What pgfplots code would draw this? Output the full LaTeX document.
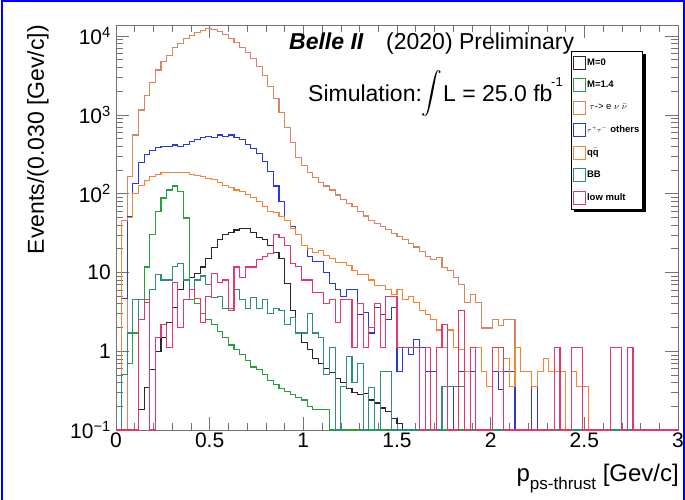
\documentclass[border=0pt]{standalone}
\usepackage{exscale}
\usepackage{fontspec}
\setmainfont{Liberation Sans}
\usepackage{graphicx}
\usepackage{pgfplots}
\pgfplotsset{compat=1.18}
\usepackage{pgfplotstable}

\definecolor{cMz}{RGB}{40,40,40}
\definecolor{cMf}{RGB}{40,160,60}
\definecolor{ctau}{RGB}{215,135,95}
\definecolor{coth}{RGB}{40,60,210}
\definecolor{cqq}{RGB}{240,135,55}
\definecolor{cBB}{RGB}{45,140,130}
\definecolor{clow}{RGB}{225,55,105}

% bin left edges (width 0.03); zero bins are written as 0.1 (the axis floor)
\pgfplotstableread{
x     Mz    Mf    tau    oth   qq    BB    low
0.00  0.1   0.1   0.1    0.1   0.1   0.1   0.1
0.03  0.1   0.1   0.1    4.7   45    0.5   0.1
0.06  0.1   0.7   163    51    50    1.7   0.1
0.09  0.1   1.7   555    136   100   4.5   0.1
0.12  0.18  4.5   1150   245   128   2.5   2.5
0.15  0.35  11.7  1780   310   148   4.2   4.5
0.18  0.58  30    2600   350   164   6     0.1
0.21  1.0   59    3700   380   177   9.5   1.5
0.24  1.5   88    4700   400   185   8     2.2
0.27  2.3   111   5700   400   187   8     1.1
0.30  3.6   125   7100   414   187   12    7.5
0.33  6.0   105   8100   400   187   13    2.0
0.36  8.0   49    9400   424   183   8     4.5
0.39  8.7   4.5   10200  458   175   6     6.0
0.42  9.8   4.0   11200  480   172   8     4.7
0.45  11.7  3.0   11900  518   165   9     2.3
0.48  15    2.5   12600  537   156   7     5.0
0.51  20.5  2.2   12200  518   150   4.8   9.8
0.54  26    1.8   11500  555   140   5     7.5
0.57  30    1.5   10500  537   128   3.5   8
0.60  32    1.2   9400   555   120   3.5   3.3
0.63  34.5  1.05  8300   518   111   6     11.7
0.66  36.5  0.9   7200   480   105   4.5   8.7
0.69  36.5  0.77  6200   424   98    3.5   11.7
0.72  32    0.63  5200   376   90    4.8   11.7
0.75  28    0.58  4100   324   79    3.5   14.5
0.78  26    0.5   3150   254   68    4.5   15.8
0.81  22    0.43  2300   190   59    3     17.6
0.84  18    0.38  1630   125   57    3.5   30
0.87  15    0.34  1080   80    51    3.3   28
0.90  7.3   0.31  690    45    46    2.2   22
0.93  3.3   0.28  440    38    36    2.7   13
0.96  1.7   0.26  290    30    30    1.7   12
0.99  1.3   0.24  230    22    22    1.7   8
1.02  1.05  0.2   187    15.8  20    3.0   8
1.05  0.8   0.18  162    13.6  18    1.7   5.5
1.08  0.7   0.18  140    13.6  19    1.5   5.5
1.11  0.6   0.18  125    10    16.6  0.5   4
1.14  0.53  0.1   111    7.3   15    1.1   4.5
1.17  0.45  0.1   96     6.0   13.5  0.1   2.3
1.20  0.40  0.1   84     4.9   13.5  0.36  4.5
1.23  0.34  0.1   75     6.0   12.3  0.85  4.5
1.26  0.30  0.1   68     6.0   10.7  0.4   1.1
1.29  0.28  0.1   60     2.9   9.3   0.7   4.0
1.32  0.29  0.1   52     3.1   9.3   0.1   1.1
1.35  0.24  0.1   46     1.7   8.0   0.35  2.0
1.38  0.22  0.1   42     3.6   6.9   0.1   4.0
1.41  0.19  0.1   38.5   2.9   6.9   0.55  1.1
1.44  0.17  0.1   35     2.5   6.0   0.55  4.9
1.47  0.14  0.1   31.5   3.6   5.2   0.1   4.9
1.50  0.12  0.1   28.5   0.55  6.0   0.1   1.1
1.53  0.1   0.1   26     1.1   4.5   0.1   1.1
1.56  0.1   0.1   23.5   0.9   4.9   0.1   1.1
1.59  0.1   0.1   21     1.4   4.1   0.1   1.1
1.62  0.1   0.1   18.5   1.1   3.3   0.1   0.1
1.65  0.1   0.1   16     0.55  2.9   0.1   1.1
1.68  0.1   0.1   14.5   0.55  2.5   0.1   0.1
1.71  0.1   0.1   15.5   0.1   1.86  0.1   1.1
1.74  0.1   0.1   11.5   0.36  1.1   0.36  2.2
1.77  0.1   0.1   10.5   0.36  1.86  0.36  0.1
1.80  0.1   0.1   8.7    0.1   1.1   0.36  0.1
1.83  0.1   0.1   7.0    0.55  1.04  0.36  3.3
1.86  0.1   0.1   4.1    0.55  0.55  0.1   0.1
1.89  0.1   0.1   5.2    0.55  1.1   0.1   1.1
1.92  0.1   0.1   4.1    0.1   1.1   0.1   0.1
1.95  0.1   0.1   1.97   0.1   0.55  0.1   0.1
1.98  0.1   0.1   1.97   0.1   0.36  0.1   0.1
2.01  0.1   0.1   2.5    0.55  1.1   0.1   1.1
2.04  0.1   0.1   2.1    0.33  0.55  0.1   1.1
2.07  0.1   0.1   2.5    0.55  0.8   0.1   0.1
2.10  0.1   0.1   2.5    0.55  0.36  0.1   0.1
2.13  0.1   0.1   0.1    0.1   1.1   0.1   0.1
2.16  0.1   0.1   0.1    0.1   0.55  0.1   0.1
2.19  0.1   0.1   0.1    0.1   0.55  0.1   0.1
2.22  0.1   0.1   0.1    0.36  0.36  0.1   0.1
2.25  0.1   0.1   0.1    0.1   0.55  0.1   0.1
2.28  0.1   0.1   0.1    0.1   0.8   0.1   0.1
2.31  0.1   0.1   0.1    0.1   0.55  0.1   0.1
2.34  0.1   0.1   0.1    0.1   0.55  0.1   1.1
2.37  0.1   0.1   0.1    0.1   0.55  0.1   0.1
2.40  0.1   0.1   0.1    0.1   0.1   0.1   0.1
2.43  0.1   0.1   0.1    0.1   0.55  0.1   1.1
2.46  0.1   0.1   0.1    0.1   0.36  0.1   1.1
2.49  0.1   0.1   0.1    0.1   0.36  0.1   0.1
2.52  0.1   0.1   0.1    0.1   0.1   0.1   0.1
2.55  0.1   0.1   0.1    0.1   0.1   0.1   0.1
2.58  0.1   0.1   0.1    0.1   0.1   0.1   0.1
2.61  0.1   0.1   0.1    0.1   0.1   0.1   0.1
2.64  0.1   0.1   0.1    0.1   0.1   0.1   1.1
2.67  0.1   0.1   0.1    0.1   0.1   0.1   1.1
2.70  0.1   0.1   0.1    0.1   0.1   0.1   0.1
2.73  0.1   0.1   0.1    0.1   0.1   0.1   1.1
2.76  0.1   0.1   0.1    0.1   0.1   0.1   0.1
2.79  0.1   0.1   0.1    0.1   0.1   0.1   0.1
2.82  0.1   0.1   0.1    0.1   0.1   0.1   0.1
2.85  0.1   0.1   0.1    0.1   0.1   0.1   0.1
2.88  0.1   0.1   0.1    0.1   0.1   0.1   0.1
2.91  0.1   0.1   0.1    0.1   0.1   0.1   0.1
2.94  0.1   0.1   0.1    0.1   0.1   0.1   0.1
2.97  0.1   0.1   0.1    0.1   0.1   0.1   0.1
3.00  0.1   0.1   0.1    0.1   0.1   0.1   0.1
}\histdata

\begin{document}
\begin{tikzpicture}
\path[use as bounding box] (0,0) rectangle (685pt,500pt);
\begin{axis}[
  at={(116pt,70pt)}, anchor=south west,
  scale only axis, width=562pt, height=405pt,
  xmin=0, xmax=3, ymode=log, ymin=0.1, ymax=13800,
  clip=false,
  axis line style={black!55, line width=0.8pt},
  tick style={black!55, line width=0.6pt},
  major tick length=13pt, minor tick length=7pt,
  xtick={0,0.5,1,1.5,2,2.5,3},
  xticklabels={0,0.5,1,1.5,2,2.5,3},
  minor x tick num=4,
  ytick={0.1,1,10,100,1000,10000},
  yticklabels={10\textsuperscript{−1},1,10,10\textsuperscript{2},10\textsuperscript{3},10\textsuperscript{4}},
  tick label style={font=\fontsize{21}{24}\selectfont},
  xticklabel style={inner sep=3pt},
  yticklabel style={inner sep=5pt},
  legend style={at={(0.8096,0.9358)}, anchor=north west, draw=black,
    line width=0.6pt, fill=white, inner xsep=1.5pt, inner ysep=4.5pt,
    font=\fontsize{9.5}{11}\selectfont\bfseries, row sep=8.7pt,
    nodes={inner sep=1.5pt}, name=leg},
  legend cell align=left,
  legend image code/.code={\draw[#1, fill=none, line width=0.8pt] (0pt,-6.5pt) rectangle (12pt,6.5pt);},
]
\addplot[const plot, color=cMz, line width=1.1pt] table[x=x, y=Mz] {\histdata};
\addlegendentry{M=0}
\addplot[const plot, color=cMf, line width=1.1pt] table[x=x, y=Mf] {\histdata};
\addlegendentry{M=1.4}
\addplot[const plot, color=ctau, line width=1.1pt] table[x=x, y=tau] {\histdata};
\addlegendentry{\mdseries\ $\tau$-> e $\nu$ $\bar{\nu}$}
\addplot[const plot, color=coth, line width=1.1pt] table[x=x, y=oth] {\histdata};
\addlegendentry{$\scriptstyle\tau^{+}\tau^{-}$ others}
\addplot[const plot, color=cqq, line width=1.1pt] table[x=x, y=qq] {\histdata};
\addlegendentry{q$\bar{\mbox{q}}$}
\addplot[const plot, color=cBB, line width=1.1pt] table[x=x, y=BB] {\histdata};
\addlegendentry{BB}
\addplot[const plot, color=clow, line width=1.1pt] table[x=x, y=low] {\histdata};
\addlegendentry{low mult}
\end{axis}
% legend shadow (right and bottom)
\fill[black] ([yshift=-3pt]leg.north east) rectangle ([xshift=3pt,yshift=-3pt]leg.south east);
\fill[black] ([xshift=3pt,yshift=-3pt]leg.south west) rectangle (leg.south east);

% titles
\node[anchor=base west, inner sep=0, font=\fontsize{23}{23}\selectfont\bfseries\itshape] at (289pt,450pt) {Belle II};
\node[anchor=base west, inner sep=0, font=\fontsize{23}{23}\selectfont] at (386pt,450pt) {(2020) Preliminary};
\node[anchor=base west, inner sep=0, font=\fontsize{23}{23}\selectfont] at (308pt,398pt) {Simulation:};
\node[inner sep=0, font=\fontsize{21}{21}\selectfont] at (432pt,406pt) {$\displaystyle\int$};
\node[anchor=base west, inner sep=0, font=\fontsize{23}{23}\selectfont] at (443pt,398pt) {L = 25.0 fb};
\node[anchor=base west, inner sep=0, font=\fontsize{13}{13}\selectfont] at (551pt,413pt) {-1};
% axis titles
\node[rotate=90, anchor=east, inner sep=0, font=\fontsize{23}{23}\selectfont] at (38pt,475pt) {Events/(0.030 [Gev/c])};
\node[anchor=base east, inner sep=0, font=\fontsize{24}{24}\selectfont] at (679pt,18pt) {p\raisebox{-8pt}{\fontsize{17}{17}\selectfont ps-thrust} [Gev/c]};
% canvas frame (top, left, right)
\draw[blue, line width=2pt] (1.5pt,0pt) -- (1.5pt,498.5pt) -- (683.5pt,498.5pt) -- (683.5pt,0pt);
\end{tikzpicture}
\end{document}
